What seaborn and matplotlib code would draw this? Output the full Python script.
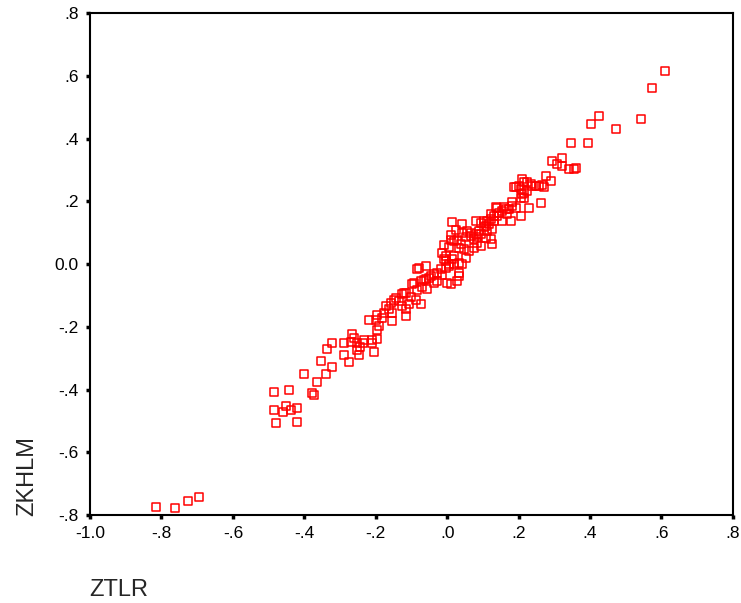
import numpy as np
import pandas as pd
import matplotlib
matplotlib.use("Agg")
import matplotlib.pyplot as plt
import seaborn as sns

# values (ZTLR vs ZKHLM)
ztlr = [
    -0.815, -0.762, -0.725, -0.695,
    -0.485, -0.443, -0.485, -0.459, -0.451, -0.437, -0.420, -0.479, -0.420,
    -0.378, -0.373, -0.364, -0.401, -0.339, -0.353, -0.322, -0.336, -0.322,
    -0.289, -0.289, -0.275, -0.266, -0.252, -0.232, -0.261, -0.252, -0.244,
    -0.246, -0.235, -0.210, -0.204, -0.196, -0.199, -0.218, -0.196, -0.190,
    -0.196, -0.182, -0.176, -0.171, -0.162, -0.154, -0.154, -0.157, -0.143,
    -0.134, -0.126, -0.115, -0.126, -0.115, -0.115, -0.106, -0.098, -0.092,
    -0.084, -0.073, -0.073, -0.070, -0.059, -0.056, -0.050, -0.045, -0.036,
    -0.036, -0.028, -0.028, -0.017, -0.078, -0.084, -0.059, -0.003, 0.006,
    0.020, 0.000, 0.011, 0.028, 0.034, 0.034, -0.014, -0.014, -0.003,
    -0.003, 0.006, 0.014, 0.020, 0.034, 0.042, 0.053, 0.062, 0.076,
    0.048, 0.034, -0.008, -0.008, 0.011, 0.014, 0.025, 0.028, 0.039,
    0.042, 0.011, 0.020, 0.042, 0.056, 0.067, 0.067, 0.084, 0.081,
    0.095, 0.076, 0.084, 0.109, 0.123, 0.126, 0.112, 0.109, 0.104,
    0.095, 0.081, 0.112, 0.123, 0.132, 0.140, 0.146, 0.132, 0.140,
    0.154, 0.165, 0.174, 0.182, 0.168, 0.154, 0.179, 0.207, 0.193,
    0.230, 0.216, 0.202, 0.193, 0.207, 0.216, 0.210, 0.224, 0.235,
    0.224, 0.210, 0.207, 0.216, 0.238, 0.258, 0.266, 0.277, 0.291,
    0.263, 0.294, 0.308, 0.322, 0.322, 0.342, 0.356, 0.361, 0.347,
    0.395, 0.403, 0.426, 0.473, 0.543, 0.574, 0.610,
    0.249, 0.272, 0.188, 0.182, 0.160, 0.137,
    0.118, 0.126, 0.104, 0.090, 0.053, 0.123, 0.095, 0.006,
    -0.269, -0.210, -0.148, -0.120, -0.101, -0.087, -0.064,
]
zkhlm = [
    -0.774, -0.777, -0.755, -0.742,
    -0.408, -0.401, -0.465, -0.471, -0.452, -0.465, -0.459, -0.506, -0.503,
    -0.411, -0.417, -0.376, -0.350, -0.350, -0.309, -0.328, -0.271, -0.252,
    -0.252, -0.290, -0.312, -0.223, -0.252, -0.242, -0.236, -0.274, -0.264,
    -0.290, -0.252, -0.252, -0.280, -0.239, -0.178, -0.178, -0.210, -0.197,
    -0.162, -0.172, -0.156, -0.134, -0.143, -0.156, -0.182, -0.124, -0.108,
    -0.118, -0.096, -0.092, -0.134, -0.143, -0.166, -0.127, -0.064, -0.061,
    -0.083, -0.127, -0.054, -0.073, -0.048, -0.080, -0.045, -0.038, -0.032,
    -0.061, -0.029, -0.054, -0.016, -0.013, -0.016, -0.006, -0.013, -0.006,
    0.000, -0.061, -0.064, -0.054, -0.029, -0.038, -0.035, 0.035, 0.025,
    0.010, 0.000, 0.016, 0.025, 0.003, 0.000, 0.019, 0.041, 0.051,
    0.048, 0.051, 0.016, 0.061, 0.092, 0.134, 0.108, 0.076, 0.064,
    0.127, 0.076, 0.073, 0.099, 0.105, 0.099, 0.089, 0.086, 0.096,
    0.096, 0.080, 0.067, 0.083, 0.080, 0.064, 0.105, 0.121, 0.137,
    0.131, 0.137, 0.137, 0.143, 0.137, 0.153, 0.162, 0.153, 0.178,
    0.169, 0.175, 0.175, 0.185, 0.159, 0.137, 0.137, 0.153, 0.178,
    0.178, 0.226, 0.248, 0.245, 0.239, 0.261, 0.271, 0.261, 0.255,
    0.232, 0.223, 0.210, 0.210, 0.248, 0.248, 0.252, 0.280, 0.264,
    0.194, 0.328, 0.318, 0.338, 0.312, 0.303, 0.303, 0.306, 0.385,
    0.385, 0.446, 0.471, 0.430, 0.462, 0.561, 0.615,
    0.248, 0.245, 0.245, 0.197, 0.182, 0.182,
    0.127, 0.111, 0.118, 0.105, 0.086, 0.159, 0.057, 0.054,
    -0.248, -0.242, -0.115, -0.092, -0.105, -0.115, -0.051,
]

x_ticks = [-1.0, -0.8, -0.6, -0.4, -0.2, 0.0, 0.2, 0.4, 0.6, 0.8]
x_ticklabels = ["-1.0", "-.8", "-.6", "-.4", "-.2", ".0", ".2", ".4", ".6", ".8"]
y_ticks = [-0.8, -0.6, -0.4, -0.2, 0.0, 0.2, 0.4, 0.6, 0.8]
y_ticklabels = ["-.8", "-.6", "-.4", "-.2", "0.0", ".2", ".4", ".6", ".8"]

df = pd.DataFrame({"ZTLR": ztlr, "ZKHLM": zkhlm})

sns.set_style("white")
plt.rcParams["font.family"] = ["Liberation Sans", "DejaVu Sans"]

fig = plt.figure(figsize=(7.41, 6.03), dpi=100)
ax = fig.add_axes([0.1215, 0.146, 0.8675, 0.832])

sns.scatterplot(data=df, x="ZTLR", y="ZKHLM", ax=ax, marker="s", s=32,
                facecolor="none", edgecolor="#ff0000", linewidth=1.1)

ax.set_xlim(-1.0, 0.8)
ax.set_ylim(-0.8, 0.8)
ax.set_xticks(x_ticks)
ax.set_xticklabels(x_ticklabels)
ax.set_yticks(y_ticks)
ax.set_yticklabels(y_ticklabels)
ax.tick_params(axis="both", which="major", direction="out", length=3, width=2.5,
               color="black", labelsize=12.5, pad=5, labelcolor="black")
ax.tick_params(top=False, right=False, bottom=True, left=True)
for sp in ax.spines.values():
    sp.set_color("black")
    sp.set_linewidth(1.5)

ax.set_xlabel("")
ax.set_ylabel("")
fig.text(0.037, 0.21, "ZKHLM", rotation=90, fontsize=17, ha="center", va="center")
fig.text(0.12, 0.022, "ZTLR", fontsize=17, ha="left", va="center")

fig.savefig("out.png", dpi=100)
